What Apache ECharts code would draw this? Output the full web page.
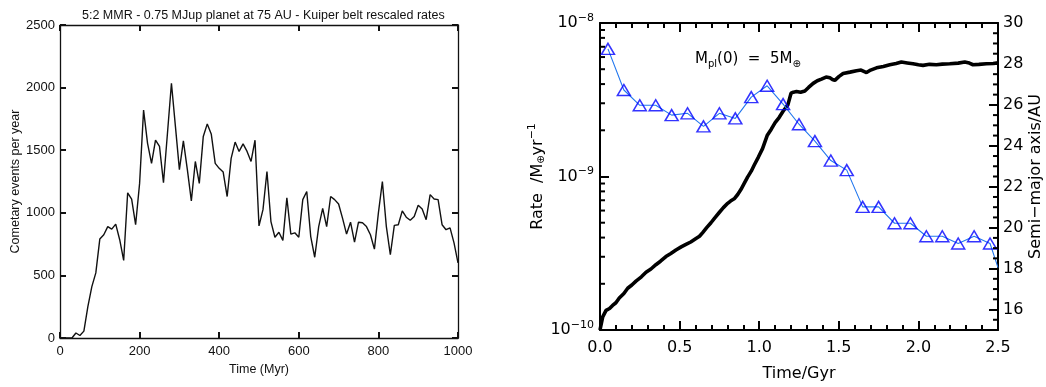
<!DOCTYPE html>
<html><head><meta charset="utf-8">
<script src="https://cdn.jsdelivr.net/npm/echarts@6/dist/echarts.min.js"></script>
<style>html,body{margin:0;padding:0;background:#fff;}#c{width:1046px;height:387px;}</style>
</head><body><div id="c"></div>
<script>
// ---- Left panel: cometary events per year vs time (Myr) ----
const leftTimes = [0,10,20,30,40,50,60,70,80,90,100,110,120,130,140,150,160,170,180,190,200,210,220,230,240,250,260,270,280,290,300,310,320,330,340,350,360,370,380,390,400,410,420,430,440,450,460,470,480,490,500,510,520,530,540,550,560,570,580,590,600,610,620,630,640,650,660,670,680,690,700,710,720,730,740,750,760,770,780,790,800,810,820,830,840,850,860,870,880,890,900,910,920,930,940,950,960,970,980,990,1000];
const leftRates = [0,0,0,0,40,20,55,250,410,520,790,825,890,870,910,785,620,1160,1110,905,1235,1820,1555,1395,1580,1530,1240,1635,2035,1690,1345,1575,1345,1095,1410,1235,1610,1710,1630,1395,1355,1325,1130,1435,1565,1490,1550,1490,1410,1580,895,1025,1330,930,805,845,780,1120,830,840,805,1105,1170,810,645,890,1035,890,1130,1105,1070,955,830,925,765,925,920,890,825,710,1000,1250,890,665,900,905,1015,965,940,970,1060,1030,945,1145,1110,1105,905,865,880,760,600];

// ---- Right panel: rate (log) with triangles, semi-major axis (black) ----
const rateTimes = [0.05,0.15,0.25,0.35,0.45,0.55,0.65,0.75,0.85,0.95,1.05,1.15,1.25,1.35,1.45,1.55,1.65,1.75,1.85,1.95,2.05,2.15,2.25,2.35,2.45];
const rateValues = [6.78e-9,3.66e-9,2.91e-9,2.91e-9,2.51e-9,2.58e-9,2.12e-9,2.58e-9,2.39e-9,3.29e-9,3.90e-9,2.96e-9,2.19e-9,1.70e-9,1.27e-9,1.10e-9,6.34e-10,6.34e-10,4.96e-10,4.96e-10,4.08e-10,4.08e-10,3.66e-10,4.08e-10,3.66e-10];
const rateEndTime = 2.5;
const rateEndValue = 2.55e-10;

const axisTimes = [0,0.006,0.017,0.038,0.06,0.079,0.1,0.121,0.15,0.174,0.2,0.226,0.26,0.289,0.32,0.351,0.38,0.414,0.445,0.477,0.51,0.54,0.57,0.603,0.625,0.645,0.67,0.697,0.72,0.749,0.775,0.802,0.82,0.843,0.865,0.885,0.905,0.927,0.95,0.969,0.995,1.021,1.05,1.075,1.1,1.125,1.15,1.18,1.2,1.215,1.234,1.26,1.287,1.31,1.339,1.365,1.391,1.42,1.444,1.46,1.475,1.5,1.527,1.57,1.611,1.64,1.674,1.7,1.737,1.78,1.82,1.86,1.893,1.93,1.966,2.0,2.029,2.07,2.113,2.15,2.197,2.25,2.291,2.32,2.343,2.38,2.427,2.47,2.5];
const axisValues = [15.0,15.08,15.64,15.96,16.05,16.2,16.33,16.56,16.78,17.04,17.2,17.39,17.6,17.82,17.98,18.19,18.36,18.59,18.74,18.91,19.06,19.18,19.3,19.47,19.58,19.76,20.0,20.24,20.47,20.74,20.98,21.19,21.3,21.41,21.62,21.86,22.15,22.47,22.76,23.06,23.45,23.86,24.5,24.8,25.13,25.38,25.69,26.0,26.57,26.62,26.65,26.62,26.68,26.85,27.05,27.18,27.26,27.36,27.32,27.24,27.2,27.38,27.53,27.6,27.67,27.7,27.58,27.7,27.81,27.88,27.96,28.02,28.09,28.05,28.01,27.96,27.93,27.98,27.96,27.99,28.01,28.04,28.09,28.04,27.96,27.98,28.01,28.02,28.05];

// tick values
const rightAxisTickValues = [16,18,20,22,24,26,28,30];
const rightAxisMinorTicks = [15.5,16.5,17,17.5,18.5,19,19.5,20.5,21,21.5,22.5,23,23.5,24.5,25,25.5,26.5,27,27.5,28.5,29,29.5];
const logMinorTicks = [2e-10,3e-10,4e-10,5e-10,6e-10,7e-10,8e-10,9e-10,2e-9,3e-9,4e-9,5e-9,6e-9,7e-9,8e-9,9e-9];

const chart = echarts.init(document.getElementById('c'), null, {renderer:'canvas'});
const LF = 'Liberation Sans, Arial, sans-serif';
const RF = 'DejaVu Sans, sans-serif';

const option = {
  animation:false,
  backgroundColor:'#fff',
  title:[
    {text:'5:2 MMR - 0.75 MJup planet at 75 AU - Kuiper belt rescaled rates', left:77, top:4,
      textStyle:{fontFamily:LF, fontSize:12.5, fontWeight:'normal', color:'#111'}},
    {text:'M{s|pl}(0)  =  5M{s|⊕}', left:690, top:45,
      textStyle:{fontFamily:RF, fontSize:15, fontWeight:'normal', color:'#000',
        rich:{s:{fontFamily:RF, fontSize:10, color:'#000', padding:[9,0,0,0]}}}}
  ],
  grid:[{left:60, top:25, width:398, height:313},{left:600, top:23, width:398, height:314}],
  xAxis:[
    {gridIndex:0, type:'value', min:0, max:1000, interval:200,
      axisLine:{show:true, onZero:false, lineStyle:{color:'#111', width:1.3}},
      axisTick:{show:true, inside:true, length:6, lineStyle:{color:'#111', width:2}}, splitLine:{show:false},
      name:'Time (Myr)', nameLocation:'middle', nameGap:23,
      nameTextStyle:{fontFamily:LF, fontSize:12.5, color:'#111'},
      axisLabel:{show:true, color:'#111', fontFamily:LF, fontSize:13, margin:7, formatter:v=>String(v)}},
    {gridIndex:0, type:'value', min:0, max:1000, interval:200, position:'top',
      axisLine:{show:true, onZero:false, lineStyle:{color:'#111', width:1.3}},
      axisTick:{show:true, inside:true, length:6, lineStyle:{color:'#111', width:2}}, splitLine:{show:false}, axisLabel:{show:false}},
    {gridIndex:1, type:'value', min:0, max:2.5, interval:0.5,
      axisLine:{show:true, onZero:false, lineStyle:{color:'#000', width:2}},
      axisTick:{show:true, inside:true, length:9, lineStyle:{color:'#000', width:2}},
      minorTick:{show:true, splitNumber:5, length:5, lineStyle:{color:'#000', width:2}}, splitLine:{show:false},
      name:'Time/Gyr', nameLocation:'middle', nameGap:36,
      nameTextStyle:{fontFamily:RF, fontSize:16, color:'#000'},
      axisLabel:{show:true, color:'#000', fontFamily:RF, fontSize:16, margin:10, formatter:v=>v.toFixed(1)}},
    {gridIndex:1, type:'value', min:0, max:2.5, interval:0.5, position:'top',
      axisLine:{show:true, onZero:false, lineStyle:{color:'#000', width:2}},
      axisTick:{show:true, inside:true, length:9, lineStyle:{color:'#000', width:2}},
      minorTick:{show:true, splitNumber:5, length:5, lineStyle:{color:'#000', width:2}}, splitLine:{show:false}, axisLabel:{show:false}}
  ],
  yAxis:[
    {gridIndex:0, type:'value', min:0, max:2500, interval:500,
      axisLine:{show:true, onZero:false, lineStyle:{color:'#111', width:1.3}},
      axisTick:{show:true, inside:true, length:6, lineStyle:{color:'#111', width:2}}, splitLine:{show:false},
      name:'Cometary events per year', nameLocation:'middle', nameGap:32,
      nameTextStyle:{fontFamily:LF, fontSize:12.5, color:'#111'},
      axisLabel:{show:true, color:'#111', fontFamily:LF, fontSize:13, margin:5, formatter:v=>String(v)}},
    {gridIndex:0, type:'value', min:0, max:2500, interval:500, position:'right',
      axisLine:{show:true, onZero:false, lineStyle:{color:'#111', width:1.3}},
      axisTick:{show:true, inside:true, length:6, lineStyle:{color:'#111', width:2}}, splitLine:{show:false}, axisLabel:{show:false}},
    {gridIndex:1, type:'log', logBase:10, min:1e-10, max:1e-8,
      axisLine:{show:true, onZero:false, lineStyle:{color:'#000', width:2}},
      axisTick:{show:true, inside:true, length:9, lineStyle:{color:'#000', width:2}}, splitLine:{show:false},
      name:'Rate  /M{s|⊕}yr{p|−1}', nameLocation:'middle', nameGap:52,
      nameTextStyle:{fontFamily:RF, fontSize:16, color:'#000',
        rich:{s:{fontFamily:RF, fontSize:10, color:'#000', padding:[8,0,0,0]},
              p:{fontFamily:RF, fontSize:11, color:'#000', padding:[0,0,10,0]}}},
      axisLabel:{show:true, margin:6, color:'#000', fontFamily:RF, fontSize:16,
        formatter:function(v){const e=Math.round(Math.log10(v)); return '10{p|−'+(-e)+'}';},
        rich:{p:{fontFamily:RF, fontSize:11, color:'#000', padding:[0,0,10,0]}}}},
    {gridIndex:1, type:'value', min:15, max:30, position:'right',
      axisLine:{show:true, onZero:false, lineStyle:{color:'#000', width:2}},
      axisTick:{show:true, inside:true, length:9, customValues:rightAxisTickValues, lineStyle:{color:'#000', width:2}}, splitLine:{show:false},
      name:'Semi\u2212major axis/AU', nameLocation:'middle', nameGap:30, nameRotate:90,
      nameTextStyle:{fontFamily:RF, fontSize:16, color:'#000'},
      axisLabel:{show:true, margin:5, color:'#000', fontFamily:RF, fontSize:16, customValues:rightAxisTickValues}}
  ],
  series:[
    {type:'line', xAxisIndex:0, yAxisIndex:0, symbol:'none',
      lineStyle:{color:'#111', width:1.4}, data:leftTimes.map((t,i)=>[t,leftRates[i]])},
    {type:'line', xAxisIndex:2, yAxisIndex:3, symbol:'none', z:3,
      lineStyle:{color:'#000', width:3.6}, data:axisTimes.map((t,i)=>[t,axisValues[i]])},
    {type:'line', xAxisIndex:2, yAxisIndex:2, symbol:'none', z:4, clip:true,
      lineStyle:{color:'#2277ee', width:1.1},
      data:rateTimes.map((t,i)=>[t,rateValues[i]]).concat([[rateEndTime,rateEndValue]])},
    {type:'scatter', xAxisIndex:2, yAxisIndex:2, symbol:'triangle', symbolSize:[13,11], z:5,
      itemStyle:{color:'rgba(0,0,0,0)', borderColor:'#0000ff', borderWidth:1.5},
      data:rateTimes.map((t,i)=>[t,rateValues[i]])},
    {type:'custom', xAxisIndex:2, yAxisIndex:2, clip:false, z:6,
      renderItem:function(params, api){
        const p = api.coord([api.value(0), api.value(1)]);
        return {type:'line', shape:{x1:p[0], y1:p[1], x2:p[0]+5, y2:p[1]}, style:{stroke:'#000', lineWidth:2}};
      },
      data:logMinorTicks.map(v=>[0, v])},
    {type:'custom', xAxisIndex:2, yAxisIndex:3, clip:false, z:6,
      renderItem:function(params, api){
        const p = api.coord([api.value(0), api.value(1)]);
        return {type:'line', shape:{x1:p[0]-5, y1:p[1], x2:p[0], y2:p[1]}, style:{stroke:'#000', lineWidth:2}};
      },
      data:rightAxisMinorTicks.map(v=>[2.5, v])}
  ]
};
chart.setOption(option);
</script></body></html>
